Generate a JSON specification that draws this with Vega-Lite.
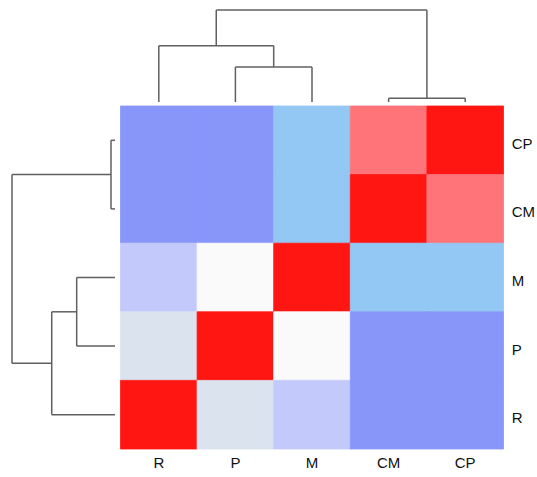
{
  "$schema": "https://vega.github.io/schema/vega-lite/v6.json",
  "width": 537,
  "height": 477,
  "padding": 0,
  "autosize": {"type": "none"},
  "background": "white",
  "config": {"view": {"stroke": null}},
  "datasets": {
    "cells": [
      {"row": "CP", "ri": 4, "col": "R", "ci": 0, "r": -0.6},
      {"row": "CP", "ri": 4, "col": "P", "ci": 1, "r": -0.6},
      {"row": "CP", "ri": 4, "col": "M", "ci": 2, "r": -0.4},
      {"row": "CP", "ri": 4, "col": "CM", "ci": 3, "r": 0.6},
      {"row": "CP", "ri": 4, "col": "CP", "ci": 4, "r": 1},
      {"row": "CM", "ri": 3, "col": "R", "ci": 0, "r": -0.6},
      {"row": "CM", "ri": 3, "col": "P", "ci": 1, "r": -0.6},
      {"row": "CM", "ri": 3, "col": "M", "ci": 2, "r": -0.4},
      {"row": "CM", "ri": 3, "col": "CM", "ci": 3, "r": 1},
      {"row": "CM", "ri": 3, "col": "CP", "ci": 4, "r": 0.6},
      {"row": "M", "ri": 2, "col": "R", "ci": 0, "r": -0.2},
      {"row": "M", "ri": 2, "col": "P", "ci": 1, "r": 0},
      {"row": "M", "ri": 2, "col": "M", "ci": 2, "r": 1},
      {"row": "M", "ri": 2, "col": "CM", "ci": 3, "r": -0.4},
      {"row": "M", "ri": 2, "col": "CP", "ci": 4, "r": -0.4},
      {"row": "P", "ri": 1, "col": "R", "ci": 0, "r": -0.1},
      {"row": "P", "ri": 1, "col": "P", "ci": 1, "r": 1},
      {"row": "P", "ri": 1, "col": "M", "ci": 2, "r": 0},
      {"row": "P", "ri": 1, "col": "CM", "ci": 3, "r": -0.6},
      {"row": "P", "ri": 1, "col": "CP", "ci": 4, "r": -0.6},
      {"row": "R", "ri": 0, "col": "R", "ci": 0, "r": 1},
      {"row": "R", "ri": 0, "col": "P", "ci": 1, "r": -0.1},
      {"row": "R", "ri": 0, "col": "M", "ci": 2, "r": -0.2},
      {"row": "R", "ri": 0, "col": "CM", "ci": 3, "r": -0.6},
      {"row": "R", "ri": 0, "col": "CP", "ci": 4, "r": -0.6}
    ],
    "segs": [
      {"x": 0.5, "x2": 0.5, "y": 5.058, "y2": 5.879, "side": "top"},
      {"x": 1.5, "x2": 1.5, "y": 5.058, "y2": 5.569, "side": "top"},
      {"x": 2.5, "x2": 2.5, "y": 5.058, "y2": 5.569, "side": "top"},
      {"x": 1.5, "x2": 2.5, "y": 5.569, "y2": 5.569, "side": "top"},
      {"x": 2.0, "x2": 2.0, "y": 5.569, "y2": 5.879, "side": "top"},
      {"x": 0.5, "x2": 2.0, "y": 5.879, "y2": 5.879, "side": "top"},
      {"x": 1.25, "x2": 1.25, "y": 5.879, "y2": 6.399, "side": "top"},
      {"x": 3.5, "x2": 3.5, "y": 5.058, "y2": 5.112, "side": "top"},
      {"x": 4.5, "x2": 4.5, "y": 5.058, "y2": 5.112, "side": "top"},
      {"x": 3.5, "x2": 4.5, "y": 5.112, "y2": 5.112, "side": "top"},
      {"x": 4.0, "x2": 4.0, "y": 5.112, "y2": 6.399, "side": "top"},
      {"x": 1.25, "x2": 4.0, "y": 6.399, "y2": 6.399, "side": "top"},
      {"x": -0.072, "x2": -0.124, "y": 4.5, "y2": 4.5, "side": "left"},
      {"x": -0.072, "x2": -0.124, "y": 3.5, "y2": 3.5, "side": "left"},
      {"x": -0.124, "x2": -0.124, "y": 3.5, "y2": 4.5, "side": "left"},
      {"x": -0.124, "x2": -1.4165, "y": 4.0, "y2": 4.0, "side": "left"},
      {"x": -0.072, "x2": -0.572, "y": 2.5, "y2": 2.5, "side": "left"},
      {"x": -0.072, "x2": -0.572, "y": 1.5, "y2": 1.5, "side": "left"},
      {"x": -0.572, "x2": -0.572, "y": 1.5, "y2": 2.5, "side": "left"},
      {"x": -0.572, "x2": -0.898, "y": 2.0, "y2": 2.0, "side": "left"},
      {"x": -0.072, "x2": -0.898, "y": 0.5, "y2": 0.5, "side": "left"},
      {"x": -0.898, "x2": -0.898, "y": 0.5, "y2": 2.0, "side": "left"},
      {"x": -0.898, "x2": -1.4165, "y": 1.25, "y2": 1.25, "side": "left"},
      {"x": -1.4165, "x2": -1.4165, "y": 1.25, "y2": 4.0, "side": "left"}
    ],
    "rowlabels": [
      {"label": "CP", "x": 5.107, "y": 4.45},
      {"label": "CM", "x": 5.107, "y": 3.45},
      {"label": "M", "x": 5.107, "y": 2.45},
      {"label": "P", "x": 5.107, "y": 1.45},
      {"label": "R", "x": 5.107, "y": 0.45}
    ],
    "collabels": [
      {"label": "R", "x": 0.5, "y": -0.2},
      {"label": "P", "x": 1.5, "y": -0.2},
      {"label": "M", "x": 2.5, "y": -0.2},
      {"label": "CM", "x": 3.5, "y": -0.2},
      {"label": "CP", "x": 4.5, "y": -0.2}
    ]
  },
  "layer": [
    {
      "data": {"name": "cells"},
      "transform": [
        {"calculate": "datum.ci + 1", "as": "ci2"},
        {"calculate": "datum.ri + 1", "as": "ri2"}
      ],
      "mark": {"type": "rect", "strokeWidth": 0.8},
      "encoding": {
        "x": {"field": "ci", "type": "quantitative", "scale": {"domain": [-1.5731, 5.4373], "nice": false, "zero": false}, "axis": null},
        "x2": {"field": "ci2"},
        "y": {"field": "ri", "type": "quantitative", "scale": {"domain": [-0.4082, 6.5452], "nice": false, "zero": false}, "axis": null},
        "y2": {"field": "ri2"},
        "color": {
          "field": "r",
          "type": "quantitative",
          "scale": {
            "domain": [-0.6, -0.4, -0.2, -0.1, 0, 0.6, 1],
            "range": ["#8896F9", "#93C7F4", "#C4C9FC", "#DAE3EE", "#FAFAFA", "#FF7479", "#FF1612"],
            "interpolate": "rgb"
          },
          "legend": null
        },
        "stroke": {
          "field": "r",
          "type": "quantitative",
          "scale": {
            "domain": [-0.6, -0.4, -0.2, -0.1, 0, 0.6, 1],
            "range": ["#8896F9", "#93C7F4", "#C4C9FC", "#DAE3EE", "#FAFAFA", "#FF7479", "#FF1612"],
            "interpolate": "rgb"
          },
          "legend": null
        }
      }
    },
    {
      "data": {"name": "segs"},
      "mark": {"type": "rule", "strokeWidth": 1.5},
      "encoding": {
        "x": {"field": "x", "type": "quantitative"},
        "x2": {"field": "x2"},
        "y": {"field": "y", "type": "quantitative"},
        "y2": {"field": "y2"},
        "color": {"value": "#606060"}
      }
    },
    {
      "data": {"name": "rowlabels"},
      "mark": {"type": "text", "align": "left", "baseline": "middle", "fontSize": 15, "font": "Liberation Sans", "color": "#111111"},
      "encoding": {
        "x": {"field": "x", "type": "quantitative"},
        "y": {"field": "y", "type": "quantitative"},
        "text": {"field": "label"}
      }
    },
    {
      "data": {"name": "collabels"},
      "mark": {"type": "text", "align": "center", "baseline": "middle", "fontSize": 15, "font": "Liberation Sans", "color": "#111111"},
      "encoding": {
        "x": {"field": "x", "type": "quantitative"},
        "y": {"field": "y", "type": "quantitative"},
        "text": {"field": "label"}
      }
    }
  ]
}
